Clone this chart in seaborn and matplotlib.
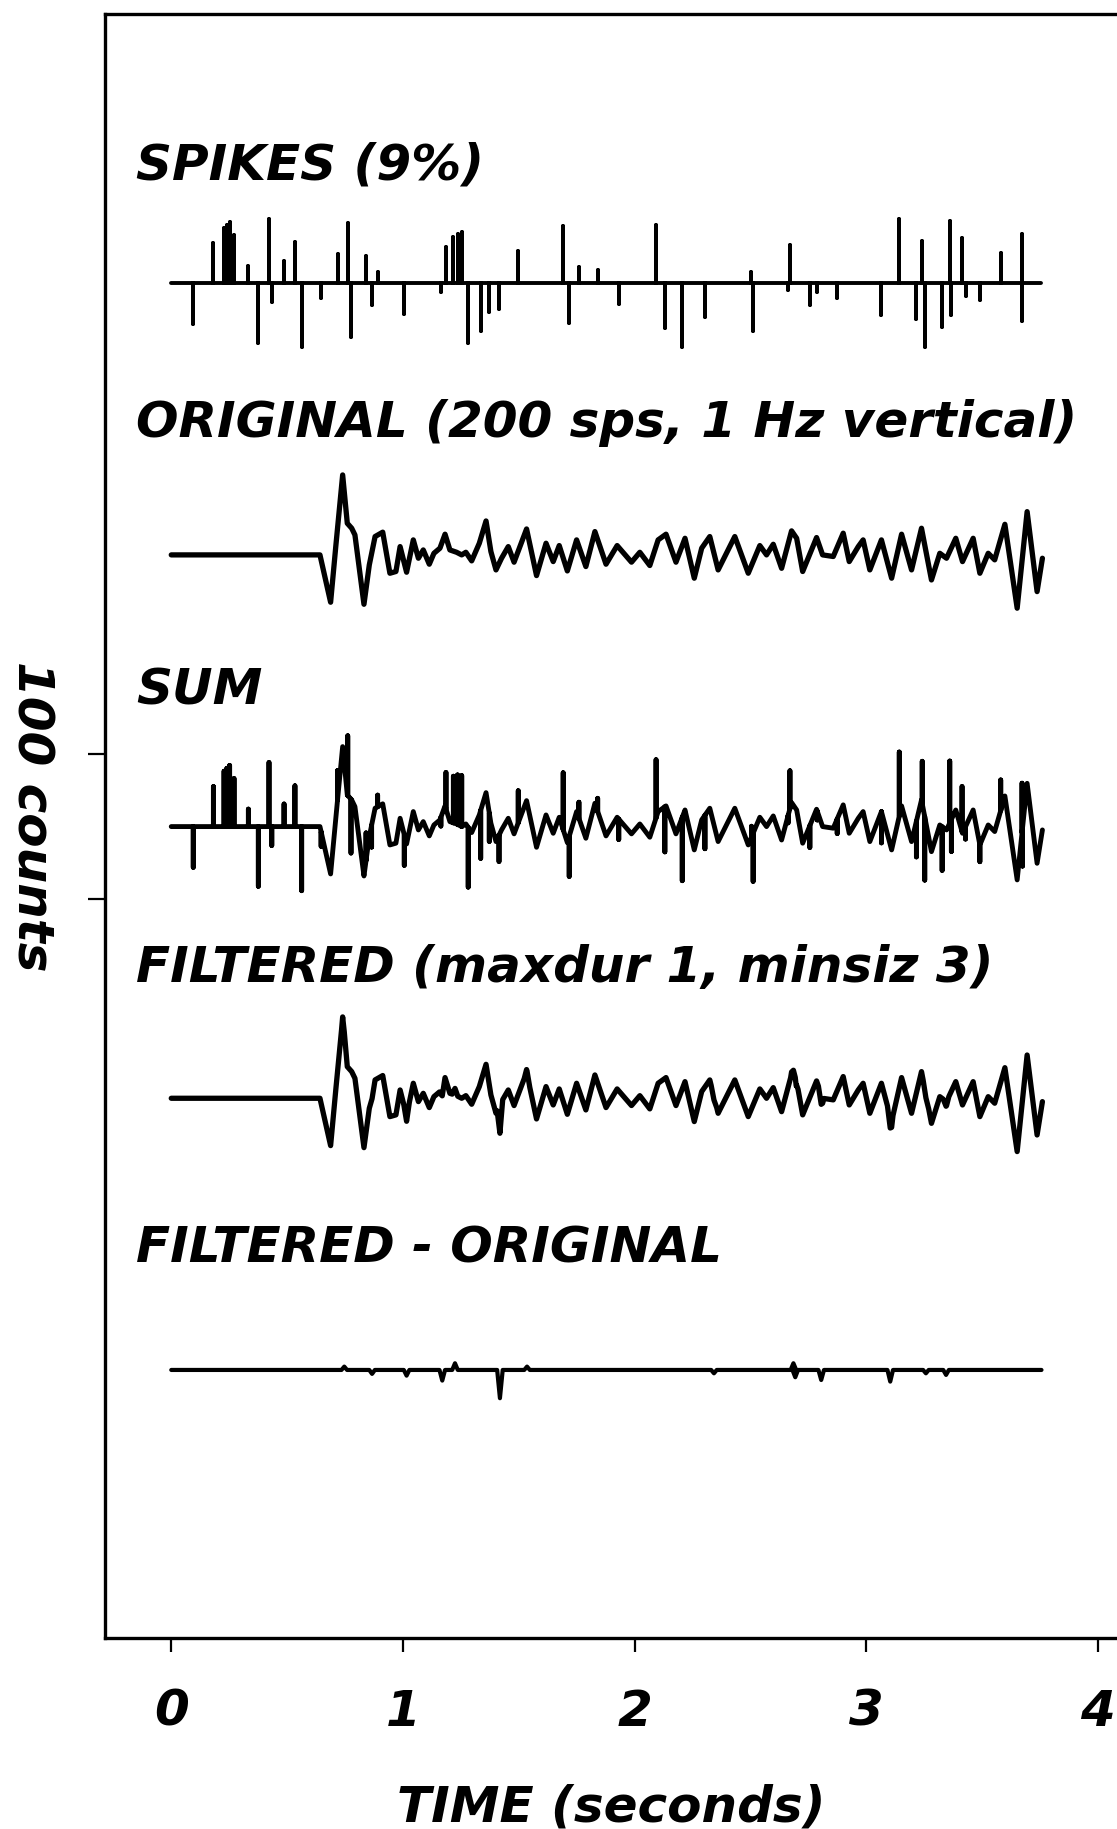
import numpy as np
import matplotlib
matplotlib.use("Agg")
import matplotlib.pyplot as plt
import seaborn as sns

# ---------------------------------------------------------------------------
# Data
# ---------------------------------------------------------------------------
# Original vertical record (200 sps, 1 Hz): turning points, time (s) / counts
orig_time = [0.000, 0.642, 0.688, 0.711, 0.740, 0.760, 0.779, 0.793, 0.832, 0.855,
             0.880, 0.913, 0.944, 0.970, 0.988, 1.016, 1.045, 1.067, 1.088, 1.114,
             1.134, 1.160, 1.182, 1.203, 1.232, 1.254, 1.272, 1.297, 1.330, 1.359,
             1.380, 1.402, 1.426, 1.455, 1.480, 1.534, 1.577, 1.618, 1.649, 1.675,
             1.710, 1.750, 1.790, 1.829, 1.877, 1.925, 1.987, 2.023, 2.066, 2.102,
             2.136, 2.179, 2.218, 2.258, 2.290, 2.325, 2.361, 2.433, 2.491, 2.541,
             2.570, 2.599, 2.635, 2.678, 2.700, 2.726, 2.786, 2.812, 2.858, 2.901,
             2.927, 2.966, 2.987, 3.016, 3.066, 3.110, 3.153, 3.196, 3.239, 3.282,
             3.318, 3.347, 3.387, 3.416, 3.462, 3.491, 3.527, 3.555, 3.599, 3.652,
             3.695, 3.738, 3.761]
orig_counts = [0.0, 0.0, -32.5, 6.9, 54.9, 21.7, 18.3, 13.7, -33.9, -6.9,
               12.6, 15.6, -12.6, -11.4, 5.7, -11.9, 10.3, -2.3, 3.4, -6.4,
               1.1, 4.6, 14.2, 3.4, 1.8, 0.0, 1.8, -4.1, 8.0, 23.3,
               2.3, -10.3, -2.3, 5.7, -5.0, 17.8, -14.2, 8.0, -4.6, 6.4,
               -11.0, 10.3, -8.0, 16.0, -6.4, 6.4, -5.0, 1.8, -7.3, 10.3,
               14.2, -5.0, 11.4, -16.0, 4.6, 12.6, -10.3, 12.6, -12.6, 6.4,
               0.0, 7.3, -9.2, 16.5, 11.4, -11.4, 11.9, 0.0, -1.1, 14.9,
               -4.6, 5.7, 10.3, -10.3, 10.3, -16.0, 14.2, -10.3, 18.3, -17.2,
               1.1, -2.3, 11.4, -4.6, 11.4, -12.6, 1.1, -3.4, 21.0, -36.6,
               29.7, -25.2, -2.3]

# Spikes added to the record (time s / counts)
spike_time = [0.095, 0.182, 0.228, 0.240, 0.252, 0.271, 0.333, 0.376, 0.422, 0.434,
              0.487, 0.534, 0.563, 0.647, 0.718, 0.762, 0.776, 0.841, 0.865, 0.891,
              1.006, 1.164, 1.186, 1.218, 1.236, 1.254, 1.282, 1.336, 1.373, 1.415,
              1.498, 1.692, 1.718, 1.760, 1.841, 1.932, 2.093, 2.131, 2.206, 2.304,
              2.505, 2.512, 2.663, 2.671, 2.757, 2.789, 2.875, 3.066, 3.143, 3.217,
              3.242, 3.253, 3.328, 3.361, 3.368, 3.414, 3.429, 3.491, 3.581, 3.673,
              3.675]
spike_counts = [-28.0, 27.5, 38.0, 40.0, 42.0, 33.0, 12.0, -41.0, 44.0, -13.0,
                15.5, 28.0, -44.0, -10.0, 20.0, 41.0, -37.0, 19.0, -15.0, 8.0,
                -21.0, -6.0, 25.0, 32.0, 34.0, 35.0, -41.0, -33.0, -19.5, -18.0,
                22.0, 39.0, -27.5, 11.0, 9.0, -14.0, 40.0, -31.0, -43.5, -23.0,
                7.5, -33.0, -5.0, 26.0, -15.0, -6.0, -10.0, -21.5, 44.0, -24.5,
                29.0, -43.5, -30.0, 42.5, -22.0, 31.0, -8.5, -11.5, 21.0, 34.0,
                -26.0]

# Residual of the spike filter (filtered minus original), time s / counts
resid_time = [0.747, 0.867, 1.016, 1.170, 1.225, 1.419, 1.536, 2.343, 2.686, 2.694,
              2.806, 3.104, 3.258, 3.345]
resid_counts = [2.3, -2.7, -3.9, -7.3, 4.6, -19.4, 2.3, -2.3, 4.6, -5.0,
                -6.9, -8.0, -2.3, -3.4]

record_end = 3.757

trace_labels = ["SPIKES (9%)", "ORIGINAL (200 sps, 1 Hz vertical)", "SUM",
                "FILTERED (maxdur 1, minsiz 3)", "FILTERED - ORIGINAL"]
x_ticks = [0, 1, 2, 3, 4]
x_tick_labels = ["0", "1", "2", "3", "4"]

# ---------------------------------------------------------------------------
# Helpers building each trace polyline
# ---------------------------------------------------------------------------
def add_strokes(t, v, st, sa):
    """Vertical strokes of amplitude sa at times st on top of the curve (t, v)."""
    pts = list(zip(t, v))
    for ts, a in zip(st, sa):
        b = float(np.interp(ts, t, v))
        pts += [(ts, b), (ts, b + a), (ts, b)]
    pts.sort(key=lambda p: p[0])
    arr = np.array(pts)
    return arr[:, 0], arr[:, 1]


def blip_curve(st, sa, half=0.012):
    """Narrow triangular blips on a zero line."""
    pts = [(0.0, 0.0)]
    for ts, a in zip(st, sa):
        pts += [(ts - half, 0.0), (ts, a), (ts + half, 0.0)]
    pts.append((record_end, 0.0))
    arr = np.array(pts)
    return arr[:, 0], arr[:, 1]


spk_t, spk_v = add_strokes([0.0, record_end], [0.0, 0.0], spike_time, spike_counts)
sum_t, sum_v = add_strokes(orig_time, orig_counts, spike_time, spike_counts)
res_t, res_v = blip_curve(resid_time, resid_counts)
flt_t = np.union1d(orig_time, res_t)
flt_v = np.interp(flt_t, orig_time, orig_counts) + np.interp(flt_t, res_t, res_v)

# ---------------------------------------------------------------------------
# Figure
# ---------------------------------------------------------------------------
sns.set_theme(style="ticks")
plt.rcParams["font.family"] = ["DejaVu Sans"]
plt.rcParams["axes.edgecolor"] = "black"
plt.rcParams["axes.labelcolor"] = "black"
plt.rcParams["text.color"] = "black"

W, H = 1117, 1829
fig = plt.figure(figsize=(W / 100, H / 100), dpi=100)
fig.patch.set_facecolor("white")
ax = fig.add_axes([105 / W, 191 / H, 1 - 105 / W, 1624 / H])
ax.set_facecolor("white")

spacing = 186.5
offsets = [2 * spacing, spacing, 0.0, -spacing, -2 * spacing]
traces = [(spk_t, spk_v, 2.8), (orig_time, orig_counts, 3.8), (sum_t, sum_v, 3.5),
          (flt_t, flt_v, 3.8), (res_t, res_v, 3.0)]

for (tt, vv, lw), off in zip(traces, offsets):
    sns.lineplot(x=np.asarray(tt), y=np.asarray(vv) + off, sort=False, estimator=None,
                 color="black", linewidth=lw, ax=ax, legend=False,
                 solid_joinstyle="round", solid_capstyle="round")

label_y = [443.9, 267.6, 83.5, -106.9, -299.0]
font_kw = dict(fontsize=36, fontweight="bold", fontstyle="italic", color="black")
for txt, yy in zip(trace_labels, label_y):
    ax.text(-0.152, yy, txt, ha="left", va="baseline", **font_kw)

ax.set_xlim(-0.286, 4.083)
ax.set_ylim(-557.0, 557.8)

ax.set_xticks(x_ticks)
ax.set_xticklabels(x_tick_labels, fontsize=36, fontweight="bold", fontstyle="italic",
                   color="black")
ax.set_yticks([-50, 50])
ax.set_yticklabels([])
ax.tick_params(axis="x", direction="out", length=10, width=1.6, pad=26, colors="black")
ax.tick_params(axis="y", direction="out", length=12, width=1.6, colors="black")

ax.set_xlabel("TIME (seconds)", labelpad=34, **font_kw)
ax.set_ylabel("")
fig.text(31.5 / W, 1 - 816 / H, "100 counts", rotation=-90, ha="center", va="center",
         **font_kw)

for side in ["left", "top", "bottom"]:
    ax.spines[side].set_linewidth(2.4)
    ax.spines[side].set_color("black")
ax.spines["right"].set_visible(False)

fig.savefig("out.png", dpi=100, facecolor="white")
